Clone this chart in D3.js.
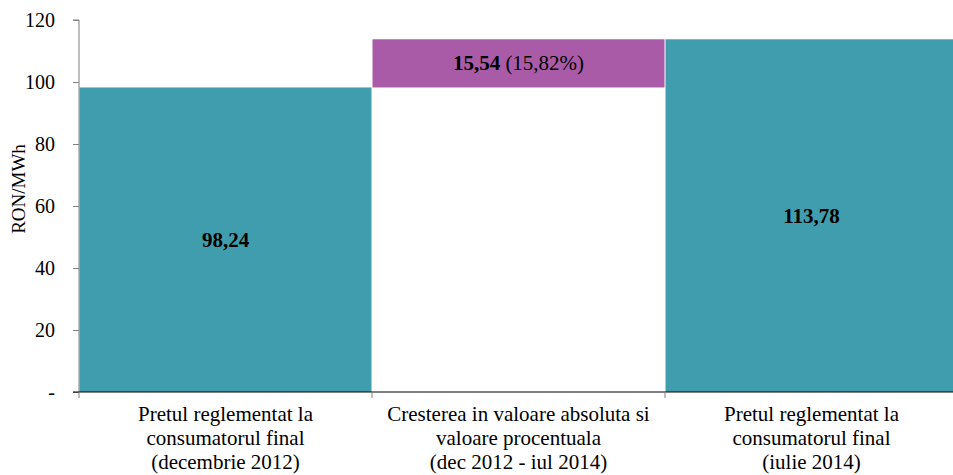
<!DOCTYPE html>
<html><head><meta charset="utf-8">
<script src="https://cdn.jsdelivr.net/npm/d3@7"></script>
<style>body{margin:0;background:#fff}svg{display:block}text{font-family:"Liberation Serif","Times New Roman",serif}</style>
</head><body>
<svg id="c" width="953" height="475"></svg>
<script>
const categories = [
  ["Pretul reglementat la","consumatorul final","(decembrie 2012)"],
  ["Cresterea in valoare absoluta si","valoare procentuala","(dec 2012 - iul 2014)"],
  ["Pretul reglementat la","consumatorul final","(iulie 2014)"]
];
const barStart = [0, 98.24, 0];
const barEnd = [98.24, 113.78, 113.78];
const barLabelBold = ["98,24", "15,54", "113,78"];
const barLabelExtra = ["", " (15,82%)", ""];
const barColors = ["#409DAE", "#A95BA8", "#409DAE"];
const yTicks = [0, 20, 40, 60, 80, 100, 120];
const yTickLabels = ["-", "20", "40", "60", "80", "100", "120"];

const FF = "Liberation Serif";
const svg = d3.select("#c");
const x = d3.scaleBand().domain(d3.range(categories.length)).range([79, 958]).padding(0);
const y = d3.scaleLinear().domain([0, 120]).range([392, 20]);

// bars
svg.selectAll("rect.bar").data(d3.range(categories.length)).enter().append("rect")
  .attr("x", i => x(i) + 0.5).attr("width", x.bandwidth() - 1)
  .attr("y", i => y(barEnd[i])).attr("height", i => y(barStart[i]) - y(barEnd[i]))
  .attr("fill", i => barColors[i]);

// bar labels
svg.selectAll("text.bl").data(d3.range(categories.length)).enter().append("text")
  .attr("x", i => x(i) + x.bandwidth() / 2)
  .attr("y", i => (y(barStart[i]) + y(barEnd[i])) / 2)
  .attr("text-anchor", "middle").attr("dominant-baseline", "central")
  .attr("font-size", 21).attr("font-family", FF).attr("fill", "#000")
  .each(function(i){
    const t = d3.select(this);
    t.append("tspan").attr("font-weight", "bold").text(barLabelBold[i]);
    if (barLabelExtra[i]) t.append("tspan").text(barLabelExtra[i]);
  });

// y axis
const yAxis = d3.axisLeft(y).tickValues(yTicks).tickFormat((d, i) => yTickLabels[i]).tickSize(6).tickPadding(18);
const yg = svg.append("g").attr("transform", "translate(79,0)").call(yAxis);
yg.attr("font-family", FF).attr("font-size", 20);
yg.select(".domain").attr("stroke", "#808080").attr("d", "M-6," + y(120) + "H0V" + y(0));
yg.selectAll(".tick line").attr("stroke", "#808080");
yg.selectAll(".tick text").attr("font-size", 20).attr("fill", "#000").attr("font-family", FF);

// x axis
const xg = svg.append("g").attr("transform", "translate(0,392)");
xg.append("line").attr("x1", 73).attr("x2", 953).attr("y1", 0).attr("y2", 0).attr("stroke", "#000");
const bounds = d3.range(categories.length + 1).map(i => i < categories.length ? x(i) : x(i - 1) + x.bandwidth());
xg.selectAll("line.t").data(bounds).enter().append("line")
  .attr("x1", d => d).attr("x2", d => d).attr("y1", 0).attr("y2", 6).attr("stroke", "#808080");
xg.selectAll("text.cl").data(d3.range(categories.length)).enter().append("text")
  .attr("x", i => x(i) + x.bandwidth() / 2).attr("y", 29)
  .attr("text-anchor", "middle").attr("font-size", 21).attr("font-family", FF).attr("fill", "#000")
  .each(function(i){
    const t = d3.select(this);
    categories[i].forEach((line, k) => {
      t.append("tspan").attr("x", x(i) + x.bandwidth() / 2).attr("dy", k === 0 ? 0 : 24).text(line);
    });
  });

// y label
svg.append("text").attr("transform", "translate(25,189) rotate(-90)")
  .attr("text-anchor", "middle").attr("font-size", 19).attr("font-family", FF).attr("fill", "#000").text("RON/MWh");
</script>
</body></html>
